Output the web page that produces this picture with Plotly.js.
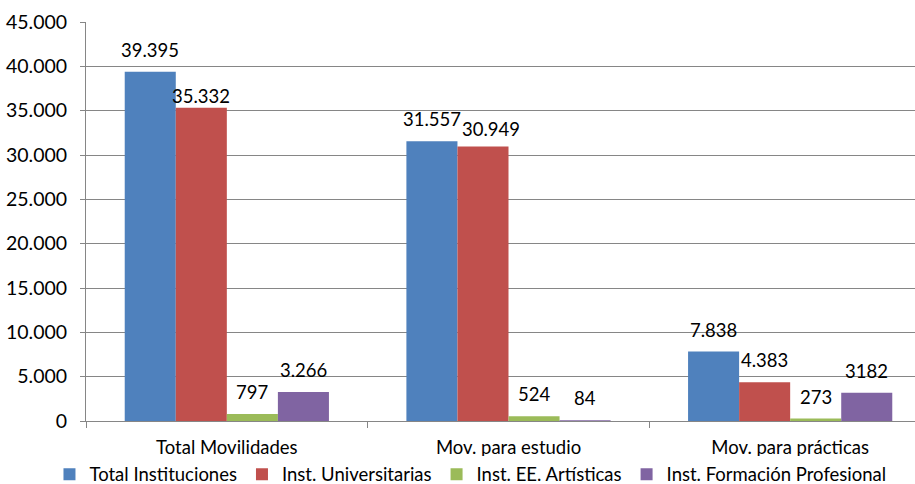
<!DOCTYPE html>
<html>
<head>
<meta charset="utf-8">
<script src="https://cdn.plot.ly/plotly-3.0.1.min.js"></script>
<style>
html,body{margin:0;padding:0;overflow:hidden;background:#fff;}
#chart{width:932px;height:484px;}
</style>
</head>
<body>
<div id="chart"></div>
<script>
const categories = ["Total Movilidades", "Mov. para estudio", "Mov. para prácticas"];
const seriesNames = ["Total Instituciones", "Inst. Universitarias", "Inst. EE. Artísticas", "Inst. Formación Profesional"];
const totalInstituciones = [39395, 31557, 7838];
const instUniversitarias = [35332, 30949, 4383];
const instArtisticas = [797, 524, 273];
const instFP = [3266, 84, 3182];
const labelsTotal = ["39.395", "31.557", "7.838"];
const labelsUniv = ["35.332", "30.949", "4.383"];
const labelsArt = ["797", "524", "273"];
const labelsFP = ["3.266", "84", "3182"];
const yTickVals = [0, 5000, 10000, 15000, 20000, 25000, 30000, 35000, 40000, 45000];
const yTickText = ["0", "5.000", "10.000", "15.000", "20.000", "25.000", "30.000", "35.000", "40.000", "45.000"];

const colors = ["#4F81BD", "#C0504D", "#9BBB59", "#8064A2"];
const allValues = [totalInstituciones, instUniversitarias, instArtisticas, instFP];
const allLabels = [labelsTotal, labelsUniv, labelsArt, labelsFP];
const FONT = "Lato, 'Open Sans', sans-serif";
const FS = 18.5;
const bargap = 0.275;
const barW = (1 - bargap) / 4;

const traces = allValues.map((vals, i) => ({
  type: "bar",
  name: seriesNames[i],
  x: categories,
  y: vals,
  marker: {color: colors[i], line: {width: 0}},
  hoverinfo: "none"
}));

// per-label nudges (pixels) to mimic the original label placement
const yNudge = {"1-0": -10, "1-1": -4};
const xNudge = {"1-1": 8};
const annotations = [];
allValues.forEach((vals, i) => {
  vals.forEach((v, c) => {
    const key = i + "-" + c;
    annotations.push({
      x: c + (i - 1.5) * barW,
      y: v,
      xref: "x", yref: "y",
      text: allLabels[i][c],
      showarrow: false,
      xanchor: "center", yanchor: "middle",
      yshift: 22 + (yNudge[key] || 0),
      xshift: (xNudge[key] || 0),
      font: {family: FONT, size: FS, color: "#000"}
    });
  });
});

const layout = {
  width: 932, height: 484,
  margin: {l: 86, r: 1, t: 22, b: 63, autoexpand: false},
  paper_bgcolor: "#fff", plot_bgcolor: "#fff",
  barmode: "group", bargap: bargap, bargroupgap: 0,
  showlegend: true,
  legend: {
    orientation: "h", x: 0.455, xanchor: "center", y: -0.087, yanchor: "top",
    font: {family: FONT, size: FS, color: "#000"},
    itemwidth: 30, tracegroupgap: 0, traceorder: "normal"
  },
  xaxis: {
    type: "category",
    showline: true, linecolor: "#868686", linewidth: 1,
    ticks: "outside", tickson: "boundaries", ticklen: 6, tickcolor: "#868686",
    ticklabelstandoff: 10,
    tickfont: {family: FONT, size: FS, color: "#000"},
    showgrid: false, zeroline: false, fixedrange: true, automargin: false
  },
  yaxis: {
    range: [0, 45000],
    tickvals: yTickVals, ticktext: yTickText,
    showline: true, linecolor: "#868686", linewidth: 1,
    ticks: "outside", ticklen: 5, tickcolor: "#868686",
    ticklabelstandoff: 9,
    showgrid: true, gridcolor: "#868686", gridwidth: 1,
    zeroline: false,
    tickfont: {family: FONT, size: 19.5, color: "#000"},
    fixedrange: true, automargin: false
  },
  annotations: annotations
};

Plotly.newPlot("chart", traces, layout, {staticPlot: true, displayModeBar: false});
</script>
</body>
</html>
